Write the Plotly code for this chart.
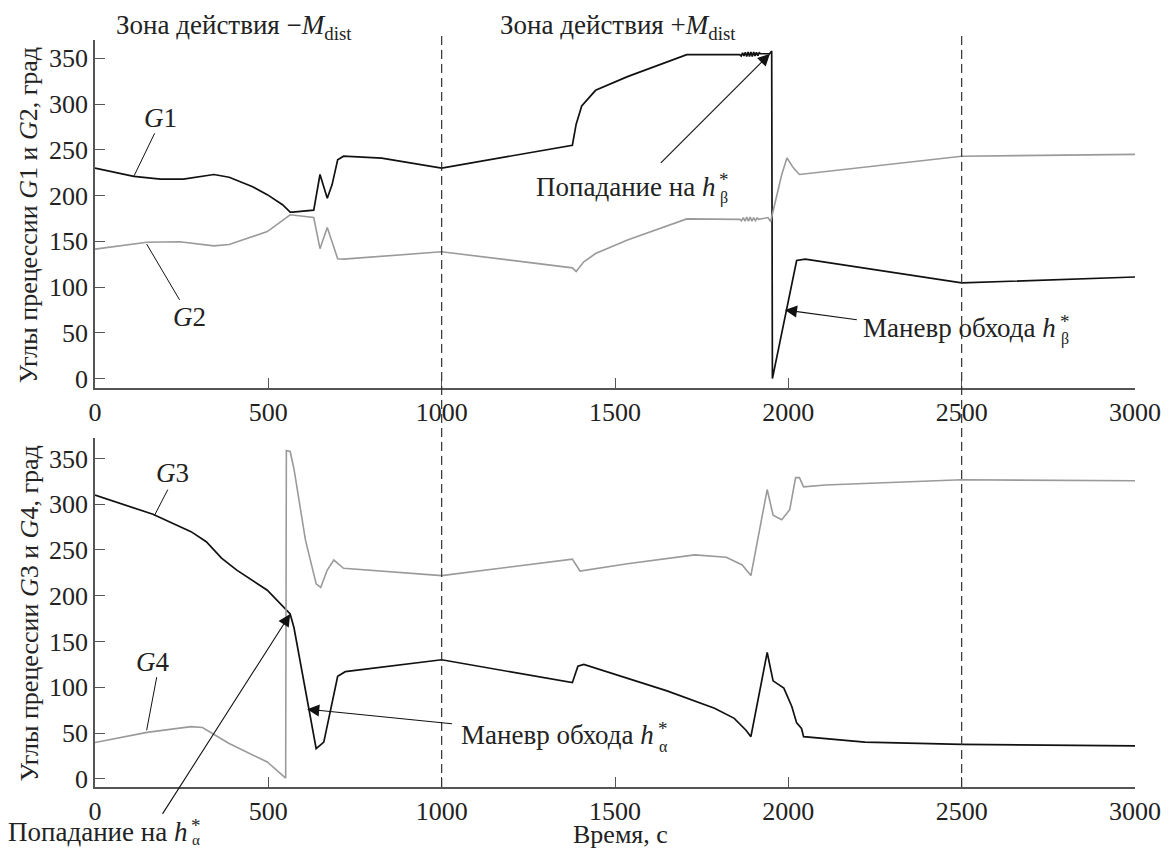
import plotly.graph_objects as go

# ---- data ----
G1_t = [0, 112, 189, 255, 343, 387, 453, 497, 541, 563, 570, 631, 649, 670, 684, 700, 717, 827, 1000,
        1377, 1388, 1404, 1444, 1536, 1707, 1800, 1860, 1864, 1868, 1872, 1876, 1880, 1884, 1888, 1892,
        1896, 1900, 1904, 1908, 1912, 1916, 1920, 1946, 1952, 1954, 2024, 2049, 2500, 3000]
G1_v = [230, 221, 218, 218, 223, 220, 210, 201, 190, 182, 182, 184, 223, 197, 212, 239, 243, 241, 230,
        255, 278, 298, 315, 330, 354, 354, 354, 352.5, 356, 352.5, 356.5, 352, 357, 352, 357,
        352, 357, 352.5, 356.5, 353, 356, 355, 355, 358, 0, 129, 130.5, 104.5, 111]

G2_t = [0, 150, 244, 343, 387, 497, 563, 607, 631, 649, 670, 700, 717, 1000, 1377, 1388, 1410, 1444,
        1536, 1707, 1860, 1865, 1870, 1875, 1880, 1885, 1890, 1895, 1900, 1905, 1910, 1915, 1941, 1949,
        1958, 1981, 1996, 2015, 2032, 2500, 3000]
G2_v = [141.5, 149, 149.6, 145, 146.6, 160.6, 179, 177, 176, 142, 165, 131, 130.5, 138.6, 121, 117, 127.6, 136.7,
        151.4, 174.5, 174, 172.5, 176, 172, 176.5, 172, 176.5, 172, 176, 172.5, 175.5, 174, 176, 171.6,
        186, 223, 241, 230, 223, 243, 245]

G3_t = [0, 167, 277, 321, 365, 409, 497, 541, 563, 574, 607, 638, 660, 676, 684, 700, 722, 1000, 1377,
        1393, 1410, 1650, 1787, 1844, 1878, 1892, 1939, 1956, 1987, 2010, 2024, 2038, 2044, 2221, 2500, 3000]
G3_v = [310, 289, 270, 259, 241, 228, 206, 189, 180, 165, 99, 33, 40, 70, 86, 112, 117, 130, 105,
        123, 125, 96, 77, 66, 53, 46, 138, 107, 99, 79, 61, 55, 46, 40, 37.5, 36]

G4_t = [0, 150, 277, 310, 387, 497, 541, 550, 552, 563, 574, 607, 638, 651, 670, 689, 717, 1000, 1377,
        1399, 1536, 1730, 1821, 1867, 1892, 1939, 1956, 1981, 2004, 2021, 2032, 2044, 2107, 2500, 3000]
G4_v = [39.6, 50.7, 57, 56, 38.5, 18.3, 3.6, 0.7, 358.7, 357.6, 338.5, 261, 213, 209, 228, 239, 230, 222, 240,
        227, 235, 244.6, 242, 233.6, 222, 316, 288, 283, 294, 329, 329, 319, 321, 326.7, 325.6]

x_ticks = [0, 500, 1000, 1500, 2000, 2500, 3000]
y_ticks = [0, 50, 100, 150, 200, 250, 300, 350]
zone_lines = [1000, 2500]

FONT = "Liberation Serif"
BLACK = "#111111"
GRAY = "#9a9a9a"
AX = "#555555"
FS = 26
AFS = 27

fig = go.Figure()
fig.add_trace(go.Scatter(x=G1_t, y=G1_v, mode="lines", line=dict(color=BLACK, width=1.7),
                         xaxis="x", yaxis="y", showlegend=False))
fig.add_trace(go.Scatter(x=G2_t, y=G2_v, mode="lines", line=dict(color=GRAY, width=1.6),
                         xaxis="x", yaxis="y", showlegend=False))
fig.add_trace(go.Scatter(x=G3_t, y=G3_v, mode="lines", line=dict(color=BLACK, width=1.7),
                         xaxis="x2", yaxis="y2", showlegend=False))
fig.add_trace(go.Scatter(x=G4_t, y=G4_v, mode="lines", line=dict(color=GRAY, width=1.6),
                         xaxis="x2", yaxis="y2", showlegend=False))

xcommon = dict(range=[0, 3000], tickvals=x_ticks, showline=True, linecolor=AX, linewidth=1.5,
               ticks="inside", ticklen=10, tickwidth=1.2, tickcolor=AX, showgrid=False, zeroline=False,
               ticklabeloverflow="allow",
               tickfont=dict(family=FONT, size=FS, color="#222"))
ycommon = dict(tickvals=y_ticks, showline=True, linecolor=AX, linewidth=1.5,
               ticks="inside", ticklen=10, tickwidth=1.2, tickcolor=AX, showgrid=False, zeroline=False,
               tickfont=dict(family=FONT, size=FS, color="#222"))

# page has an 8px body margin: figure is placed at (8, 8)
fig.update_layout(
    width=1165, height=841,
    margin=dict(l=87, r=25, t=32, b=62),
    plot_bgcolor="white", paper_bgcolor="white",
    xaxis=dict(domain=[0, 1], anchor="y", **xcommon),
    yaxis=dict(domain=[0.5345, 1], anchor="x", range=[-10, 370], **ycommon),
    xaxis2=dict(domain=[0, 1], anchor="y2", **xcommon),
    yaxis2=dict(domain=[0, 0.4668], anchor="x2", range=[-9, 372], **ycommon),
)

shapes = []
for xv in zone_lines:
    shapes.append(dict(type="line", xref="x", yref="paper", x0=xv, x1=xv, y0=0, y1=1.0095,
                       line=dict(color="#333", width=1.2, dash="9px,5px")))
# label leader lines
shapes += [
    dict(type="line", xref="x", yref="y", x0=172, y0=268, x1=112, y1=221, line=dict(color=BLACK, width=1)),
    dict(type="line", xref="x", yref="y", x0=244, y0=86, x1=149, y1=147, line=dict(color=BLACK, width=1)),
    dict(type="line", xref="x2", yref="y2", x0=210, y0=316, x1=172, y1=288, line=dict(color=BLACK, width=1)),
    dict(type="line", xref="x2", yref="y2", x0=178, y0=111, x1=149, y1=53, line=dict(color=BLACK, width=1)),
]
fig.update_layout(shapes=shapes)

ann = []
def txt(text, x, y, xref, yref, xanchor="left", yanchor="middle", angle=0, size=AFS):
    ann.append(dict(text=text, x=x, y=y, xref=xref, yref=yref, xanchor=xanchor, yanchor=yanchor,
                    showarrow=False, font=dict(family=FONT, size=size, color="#222"), textangle=angle,
                    borderpad=0))

def arrow(xh, yh, xt, yt, xr, yr):
    ann.append(dict(text="", x=xh, y=yh, ax=xt, ay=yt, xref=xr, yref=yr, axref=xr, ayref=yr,
                    showarrow=True, arrowhead=2, arrowsize=2.2, arrowwidth=1.1, arrowcolor=BLACK))

# window pixel -> paper, plot area spans 95..1140 x 40..779 in the window
def px(xw):
    return (xw - 95) / 1045.0
def py(yw):
    return (779 - yw) / 739.0

def hstar(hx, yw_main, main, sub, dsub=11, ssize=16):
    txt(main + " <i>h</i>", px(hx), py(yw_main), "paper", "paper", xanchor="right")
    txt("*", px(hx + 8), py(yw_main - 7), "paper", "paper", xanchor="center", size=19)
    txt(sub, px(hx + 8), py(yw_main + dsub), "paper", "paper", xanchor="center", size=ssize)

txt("Зона действия −<i>M</i><sub>dist</sub>", px(115), py(27), "paper", "paper")
txt("Зона действия +<i>M</i><sub>dist</sub>", px(501), py(27), "paper", "paper")
txt("<i>G</i>1", 189, 285, "x", "y", xanchor="center")
txt("<i>G</i>2", 273, 67, "x", "y", xanchor="center")
txt("<i>G</i>3", 224, 334, "x2", "y2", xanchor="center")
txt("<i>G</i>4", 166, 128, "x2", "y2", xanchor="center")

hstar(719, 185, "Попадание на", "β")
hstar(1062, 325, "Маневр обхода", "β")
hstar(658, 728, "Маневр обхода", "α")
hstar(188, 824, "Попадание на", "α", dsub=7, ssize=15)

txt("Время, с", px(623), py(826), "paper", "paper", xanchor="center", size=FS)
txt("Углы прецессии <i>G</i>1 и <i>G</i>2, град", px(29), py(213), "paper", "paper", xanchor="center",
    angle=-90, size=FS)
txt("Углы прецессии <i>G</i>3 и <i>G</i>4, град", px(29), py(607), "paper", "paper", xanchor="center",
    angle=-90, size=FS)

arrow(1947, 355, 1628, 234, "x", "y")
arrow(1990, 75, 2202, 64, "x", "y")
arrow(612, 76, 1034, 60, "x2", "y2")
arrow(563, 180, 192, -40, "x2", "y2")

fig.update_layout(annotations=ann)
fig.write_html("out.html")
